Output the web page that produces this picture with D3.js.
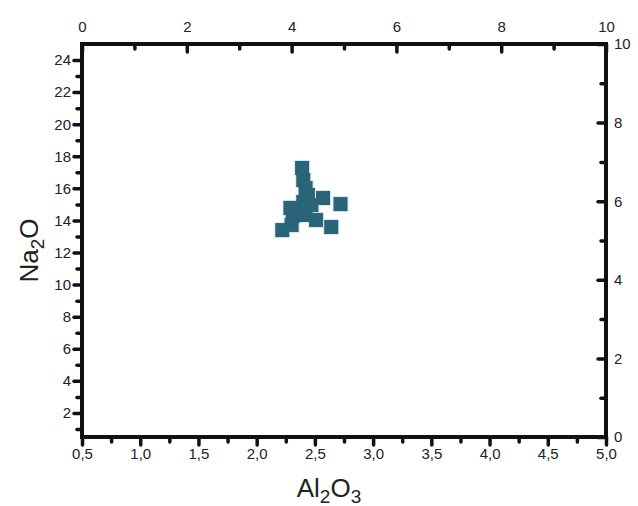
<!DOCTYPE html>
<html>
<head>
<meta charset="utf-8">
<script src="https://cdn.jsdelivr.net/npm/d3@7"></script>
<style>
  body { margin: 0; background: #fff; }
  svg { display: block; font-family: "Liberation Sans", Arial, sans-serif; }
  .axis text { font-size: 15px; fill: #222; }
  .axis line { stroke: #111; stroke-width: 3.5; stroke-linecap: round; }
  .axis path { display: none; }
</style>
</head>
<body>
<svg id="chart" width="638" height="506"></svg>
<script>
// Al2O3 vs Na2O samples
var al2o3 = [2.39, 2.40, 2.42, 2.44, 2.57, 2.72, 2.40, 2.29, 2.31, 2.22, 2.30, 2.51, 2.42, 2.64, 2.35, 2.47];
var na2o  = [17.27, 16.52, 16.02, 15.59, 15.40, 15.02, 15.15, 14.78, 14.28, 13.40, 13.72, 14.03, 14.34, 13.59, 14.65, 14.96];

var bottomTicks = [0.5, 1.0, 1.5, 2.0, 2.5, 3.0, 3.5, 4.0, 4.5, 5.0];
var bottomMinor = [0.75, 1.25, 1.75, 2.25, 2.75, 3.25, 3.75, 4.25, 4.75];
var leftTicks = [2, 4, 6, 8, 10, 12, 14, 16, 18, 20, 22, 24];
var leftMinor = [1, 3, 5, 7, 9, 11, 13, 15, 17, 19, 21, 23];
var auxTicks = [0, 2, 4, 6, 8, 10];
var auxMinor = [1, 3, 5, 7, 9];

var svg = d3.select('#chart'),
    box = { left : 82, right : 606, top : 44, bottom : 437 };

var x = d3.scaleLinear().domain([0.5, 5.0]).range([box.left, box.right]),
    y = d3.scaleLinear().domain([0.5, 25]).range([box.bottom, box.top]),
    xTop = d3.scaleLinear().domain([0, 10]).range([box.left, box.right]),
    yRight = d3.scaleLinear().domain([0, 10]).range([box.bottom, box.top]);

var comma = function(d){ return d3.format('.1f')(d).replace('.', ','); };

function addAxis(axis, tx, ty){
    return svg.append('g').attr('class', 'axis')
        .attr('transform', 'translate(' + tx + ',' + ty + ')')
        .call(axis);
}

// minor ticks first, then major ticks with labels
addAxis(d3.axisBottom(x).tickValues(bottomMinor).tickSize(5).tickFormat(''), 0, box.bottom);
addAxis(d3.axisBottom(x).tickValues(bottomTicks).tickSize(8).tickPadding(3).tickFormat(comma), 0, box.bottom);

addAxis(d3.axisLeft(y).tickValues(leftMinor).tickSize(5).tickFormat(''), box.left, 0);
addAxis(d3.axisLeft(y).tickValues(leftTicks).tickSize(8).tickPadding(3), box.left, 0);

addAxis(d3.axisTop(xTop).tickValues(auxMinor).tickSize(-5).tickFormat(''), 0, box.top);
addAxis(d3.axisTop(xTop).tickValues(auxTicks).tickSizeInner(-8).tickSizeOuter(0).tickPadding(12), 0, box.top);

addAxis(d3.axisRight(yRight).tickValues(auxMinor).tickSize(-5).tickFormat(''), box.right, 0);
addAxis(d3.axisRight(yRight).tickValues(auxTicks).tickSizeInner(-8).tickSizeOuter(0).tickPadding(8), box.right, 0);

// frame
svg.append('rect')
    .attr('x', box.left).attr('y', box.top)
    .attr('width', box.right - box.left).attr('height', box.bottom - box.top)
    .attr('fill', 'none').attr('stroke', '#111').attr('stroke-width', 4);

// points: light halo underneath so overlapping squares merge into one blob
var size = 14,
    pts = al2o3.map(function(v, i){ return [v, na2o[i]]; });

function squares(cls, s, colour){
    svg.append('g').attr('class', cls).selectAll('rect')
        .data(pts)
        .enter().append('rect')
        .attr('x', function(d){ return x(d[0]) - s / 2; })
        .attr('y', function(d){ return y(d[1]) - s / 2; })
        .attr('width', s).attr('height', s)
        .attr('fill', colour);
}
squares('halo', size + 2, '#dde6ea');
squares('marks', size, '#2a6478');

// axis titles
svg.append('text')
    .attr('x', (box.left + box.right) / 2 - 15).attr('y', 497)
    .attr('text-anchor', 'middle').attr('font-size', 26).attr('fill', '#222')
    .html('Al<tspan dy="6" font-size="19">2</tspan><tspan dy="-6">O</tspan><tspan dy="6" font-size="19">3</tspan>');

svg.append('text')
    .attr('transform', 'translate(38,' + ((box.top + box.bottom) / 2 + 10) + ') rotate(-90)')
    .attr('text-anchor', 'middle').attr('font-size', 26).attr('fill', '#222')
    .html('Na<tspan dy="6" font-size="19">2</tspan><tspan dy="-6">O</tspan>');
</script>
</body>
</html>
